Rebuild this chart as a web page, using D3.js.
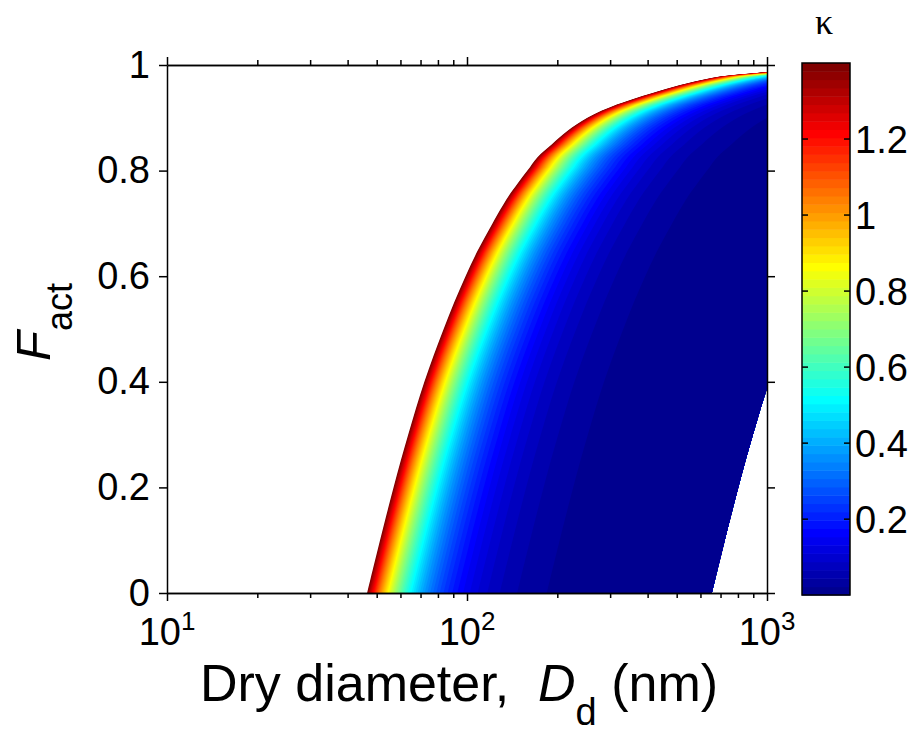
<!DOCTYPE html>
<html>
<head>
<meta charset="utf-8">
<script src="https://cdn.jsdelivr.net/npm/d3@7"></script>
<style>
  body { margin: 0; background: #fff; }
  text { font-family: "Liberation Sans", Arial, sans-serif; fill: #000; }
</style>
</head>
<body>
<script>
// activated fraction, and dry diameter (nm) of the kappa = 1.4 edge at that fraction
var fAct  = [0, 0.05, 0.1, 0.15, 0.2, 0.25, 0.3, 0.35, 0.4, 0.45, 0.5, 0.55, 0.6, 0.65,
             0.7, 0.75, 0.775, 0.8, 0.825, 0.85, 0.875, 0.9, 0.925, 0.95, 0.965, 0.978, 0.985, 0.99];
var dEdge = [46.5, 48.8, 51.3, 54.0, 56.9, 60.1, 63.7, 67.6, 72.1, 77.4, 83.6, 90.6, 98.9, 108.9,
             121.6, 137, 147.3, 159, 171.5, 192, 216, 252, 316, 431.5, 539.5, 696.6, 924.7, 1148];

// hygroscopicity range shown by the colour bar
var kappaRange = [0.0005, 1.4];

var yTicks = [0, 0.2, 0.4, 0.6, 0.8, 1];
var yTickLabels = ["0", "0.2", "0.4", "0.6", "0.8", "1"];
var xMajor = [10, 100, 1000];
var xExp = ["1", "2", "3"];
var xMinor = [20, 30, 40, 50, 60, 70, 80, 90, 200, 300, 400, 500, 600, 700, 800, 900];
var cbTicks = [0.2, 0.4, 0.6, 0.8, 1, 1.2];
var cbTickLabels = ["0.2", "0.4", "0.6", "0.8", "1", "1.2"];

var width = 917, height = 735;
var nColors = 64;

// matlab jet(64)
function jet(m) {
  var n = Math.ceil(m / 4), u = [];
  for (var k = 1; k <= n; k++) u.push(k / n);
  for (k = 1; k < n; k++) u.push(1);
  for (k = n; k >= 1; k--) u.push(k / n);
  var off = Math.ceil(n / 2) - (m % 4 == 1 ? 1 : 0);
  var cols = [];
  for (var i = 1; i <= m; i++) {
    var g = u[i - off - 1] || 0, r = u[i - off - n - 1] || 0, b = u[i - off + n - 1] || 0;
    cols.push(d3.rgb(r * 255, g * 255, b * 255).toString());
  }
  return cols;
}
var colors = jet(nColors);

var svg = d3.select("body").append("svg")
    .attr("width", width)
    .attr("height", height);

var x = d3.scaleLog().domain([10, 1000]).range([167, 767]);
var y = d3.scaleLinear().domain([0, 1]).range([593, 65]);

svg.append("clipPath").attr("id", "plotclip")
  .append("rect")
    .attr("x", 167).attr("y", 65)
    .attr("width", 600).attr("height", 528);

var pts = fAct.map(function(f, i) { return {f: f, d: dEdge[i]}; });
var kMin = kappaRange[0], kMax = kappaRange[1];
var step = (kMax - kMin) / nColors;

// critical dry diameter scales as kappa^(-1/3); paint bands from high kappa to low
var field = svg.append("g").attr("clip-path", "url(#plotclip)");
for (var i = nColors; i >= 1; i--) {
  var kTop = kMin + i * step;
  var area = d3.area()
      .curve(d3.curveCatmullRom)
      .y(function(d) { return y(d.f); })
      .x0(function(d) { return x(d.d * Math.cbrt(kMax / kTop)); })
      .x1(function(d) { return x(d.d * Math.cbrt(kMax / kMin)); });
  field.append("path")
      .attr("d", area(pts))
      .attr("fill", colors[i - 1]);
}

// axes
function styleAxis(g) {
  g.selectAll("path, line").attr("stroke", "#000").attr("stroke-width", 1.5);
}
svg.append("g").attr("transform", "translate(0,593)")
    .call(d3.axisBottom(x).tickValues(xMajor).tickSize(8).tickSizeOuter(0).tickFormat(""))
    .call(styleAxis);
svg.append("g").attr("transform", "translate(0,593)")
    .call(d3.axisBottom(x).tickValues(xMinor).tickSize(5).tickSizeOuter(0).tickFormat(""))
    .call(styleAxis);
svg.append("g").attr("transform", "translate(0,65)")
    .call(d3.axisTop(x).tickValues(xMajor).tickSize(8).tickSizeOuter(0).tickFormat(""))
    .call(styleAxis);
svg.append("g").attr("transform", "translate(0,65)")
    .call(d3.axisTop(x).tickValues(xMinor).tickSize(5).tickSizeOuter(0).tickFormat(""))
    .call(styleAxis);
svg.append("g").attr("transform", "translate(167,0)")
    .call(d3.axisLeft(y).tickValues(yTicks).tickSize(8).tickSizeOuter(0).tickPadding(9)
      .tickFormat(function(d, i) { return yTickLabels[i]; }))
    .call(styleAxis)
    .selectAll("text").style("font-size", "38px")
    .style("font-family", "'Liberation Sans', Arial, sans-serif");
svg.append("g").attr("transform", "translate(767,0)")
    .call(d3.axisRight(y).tickValues(yTicks).tickSize(8).tickSizeOuter(0).tickFormat(""))
    .call(styleAxis);

// x tick labels 10^n
var xl = svg.selectAll(".xlab").data(xMajor).enter().append("text")
    .attr("class", "xlab")
    .attr("x", function(d) { return x(d); })
    .attr("y", 645)
    .attr("text-anchor", "middle")
    .style("font-size", "38px");
xl.append("tspan").text("10");
xl.append("tspan").attr("dy", -15).style("font-size", "26px")
    .text(function(d, i) { return xExp[i]; });

// axis titles
var xt = svg.append("text")
    .attr("x", 459).attr("y", 701)
    .attr("text-anchor", "middle")
    .style("font-size", "52px");
xt.append("tspan").text("Dry diameter,\u00a0\u00a0");
xt.append("tspan").style("font-style", "italic").text("D");
xt.append("tspan").attr("dy", 24).style("font-size", "38px").text("d");
xt.append("tspan").attr("dy", -24).text(" (nm)");

var yt = svg.append("text")
    .attr("transform", "translate(50,322) rotate(-90)")
    .attr("text-anchor", "middle")
    .style("font-size", "49px");
yt.append("tspan").style("font-style", "italic").text("F");
yt.append("tspan").attr("dy", 22).style("font-size", "36px").text("act");

// colour bar
var cb = d3.scaleLinear().domain(kappaRange).range([595, 63]);
var cbg = svg.append("g");
cbg.selectAll("rect.cb").data(colors).enter().append("rect")
    .attr("class", "cb")
    .attr("x", 802).attr("width", 48)
    .attr("y", function(d, i) { return cb(kMin + (i + 1) * step); })
    .attr("height", function(d, i) { return cb(kMin + i * step) - cb(kMin + (i + 1) * step) + 0.5; })
    .attr("fill", function(d) { return d; });
cbg.append("rect")
    .attr("x", 802).attr("y", 63).attr("width", 48).attr("height", 532)
    .attr("fill", "none").attr("stroke", "#000").attr("stroke-width", 1.5);
cbg.selectAll("line.tl").data(cbTicks).enter().append("line")
    .attr("x1", 802).attr("x2", 808)
    .attr("y1", function(d) { return cb(d); }).attr("y2", function(d) { return cb(d); })
    .attr("stroke", "#000").attr("stroke-width", 1.5);
cbg.selectAll("line.tr").data(cbTicks).enter().append("line")
    .attr("x1", 844).attr("x2", 850)
    .attr("y1", function(d) { return cb(d); }).attr("y2", function(d) { return cb(d); })
    .attr("stroke", "#000").attr("stroke-width", 1.5);
cbg.selectAll("text.cbl").data(cbTicks).enter().append("text")
    .attr("class", "cbl")
    .attr("x", 855)
    .attr("y", function(d) { return cb(d); })
    .attr("dy", "0.36em")
    .style("font-size", "38px")
    .text(function(d, i) { return cbTickLabels[i]; });
svg.append("text")
    .attr("x", 824).attr("y", 34)
    .attr("text-anchor", "middle")
    .style("font-family", "'Liberation Serif', serif")
    .style("font-size", "36px")
    .text("\u03ba");
</script>
</body>
</html>
